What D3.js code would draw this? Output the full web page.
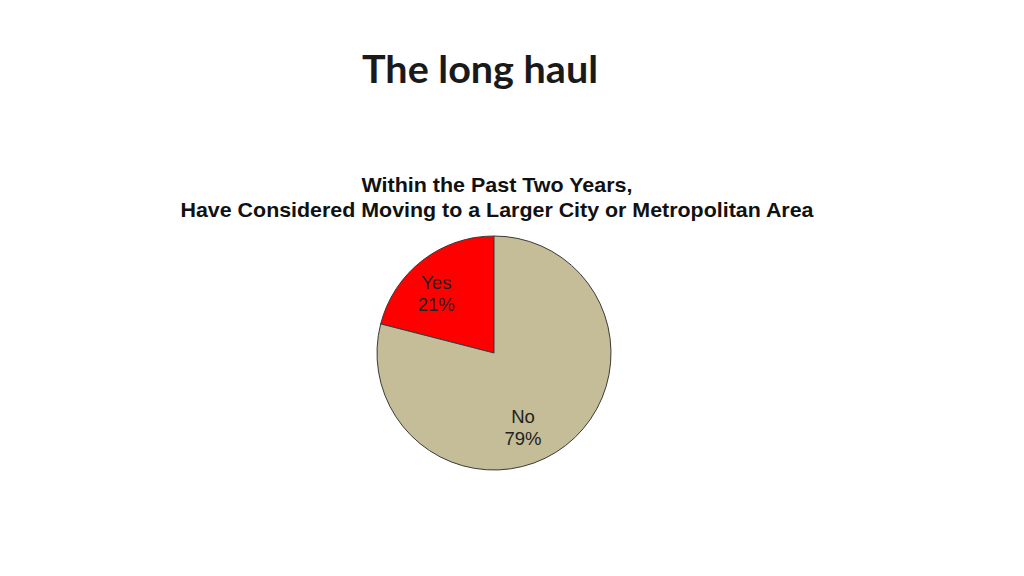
<!DOCTYPE html>
<html><head><meta charset="utf-8">
<script src="https://cdn.jsdelivr.net/npm/d3@7"></script>
<style>body{margin:0;background:#fff}svg{display:block}</style>
</head><body>
<svg id="c" width="1024" height="576"></svg>
<script>
const categories = ["Yes", "No"];
const values = [21, 79];
const colors = ["#ff0000", "#c4bd97"];
const pageTitle = "The long haul";
const chartTitle = ["Within the Past Two Years,", "Have Considered Moving to a Larger City or Metropolitan Area"];

const svg = d3.select("#c");
svg.append("text").attr("x", 480).attr("y", 83).attr("text-anchor", "middle")
  .attr("font-family", "Lato, 'Open Sans', sans-serif").attr("font-weight", "bold")
  .attr("font-size", 38).attr("fill", "#1a1a1a")
  .attr("textLength", 236).attr("lengthAdjust", "spacingAndGlyphs").text(pageTitle);

const ctWidths = [271, 633];
svg.selectAll("text.ct").data(chartTitle).join("text").attr("class", "ct")
  .attr("x", 497).attr("y", (d, i) => 192 + i * 25).attr("text-anchor", "middle")
  .attr("font-family", "'Liberation Sans', Arial, sans-serif").attr("font-weight", "bold")
  .attr("font-size", 20.5).attr("fill", "#111")
  .attr("textLength", (d, i) => ctWidths[i]).attr("lengthAdjust", "spacingAndGlyphs")
  .text(d => d);

const cx = 494, cy = 353, r = 117;
const data = categories.map((c, i) => ({ cat: c, value: values[i], color: colors[i] }));
const pie = d3.pie().value(d => d.value).sort(null).startAngle(0).endAngle(2 * Math.PI);
const total = d3.sum(values);
// "Yes" runs counterclockwise from 12 o'clock, "No" fills the rest clockwise
const arcs = pie(data).map((a, i) => {
  const span = a.endAngle - a.startAngle;
  return i === 0 ? { ...a, startAngle: -span, endAngle: 0 } : { ...a, startAngle: 0, endAngle: span };
});
const arc = d3.arc().innerRadius(0).outerRadius(r);
const g = svg.append("g").attr("transform", `translate(${cx},${cy})`);
g.selectAll("path").data(arcs).join("path").attr("d", arc)
  .attr("fill", d => d.data.color).attr("stroke", "#3a3a3a").attr("stroke-width", 1);

// label anchor: angle (deg from 12 o'clock) and distance as fraction of radius
const labelAngle = [-44, 158.6];
const labelDist = [0.71, 0.68];
const lab = g.selectAll("g.lab").data(arcs).join("g").attr("class", "lab")
  .attr("transform", (d, i) => {
    const a = labelAngle[i] * Math.PI / 180, k = labelDist[i] * r;
    return `translate(${k * Math.sin(a)},${-k * Math.cos(a)})`;
  });
lab.append("text").attr("y", -4).attr("text-anchor", "middle")
  .attr("font-family", "'Liberation Sans', Arial, sans-serif").attr("font-size", 18.5).attr("fill", "#222")
  .text(d => d.data.cat);
lab.append("text").attr("y", 18).attr("text-anchor", "middle")
  .attr("font-family", "'Liberation Sans', Arial, sans-serif").attr("font-size", 18.5).attr("fill", "#222")
  .text(d => Math.round(d.data.value / total * 100) + "%");
</script>
</body></html>
